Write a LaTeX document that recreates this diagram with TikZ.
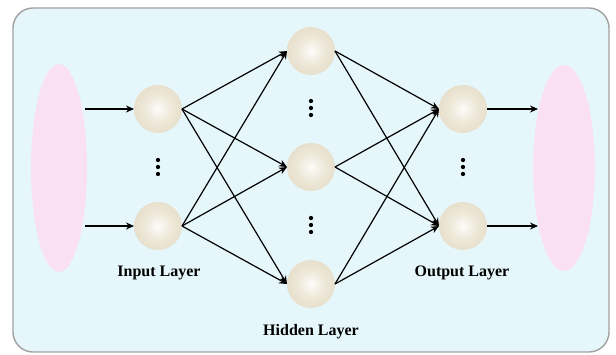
\documentclass[tikz,border=0pt]{standalone}
\usepackage{fontspec}
\setmainfont{Liberation Serif}
\usetikzlibrary{arrows.meta}
\definecolor{panelbg}{HTML}{E6F7FB}
\definecolor{panelrim}{HTML}{A0A0A0}
\definecolor{blush}{HTML}{F9E1F3}
\definecolor{beige}{HTML}{D8CDAE}
\definecolor{pearl}{HTML}{FDFCF9}
\definecolor{cream}{HTML}{EEE8D9}
% soft sphere: light centre fading to a beige rim at the circle's edge
\pgfdeclareradialshading{pearlball}{\pgfpoint{0bp}{0bp}}{%
  color(0bp)=(pearl); color(14bp)=(cream); color(50bp)=(beige); color(100bp)=(beige)}
\tikzset{
  neuron/.style={circle, minimum size=48pt, inner sep=0pt, outer sep=0pt,
    shading=pearlball},
  link/.style={line width=1.2pt, -{Stealth[length=8pt,width=7pt]}},
  layerlabel/.style={font=\bfseries\fontsize{16}{19}\selectfont, inner sep=0pt},
  vdot/.style={circle, fill=black, inner sep=0pt, minimum size=4.3pt}
}
\begin{document}
\begin{tikzpicture}[x=1pt,y=-1pt]
  \useasboundingbox (0,0) rectangle (616,354);
  % panel
  \draw[fill=panelbg, draw=panelrim, line width=1.4pt, rounded corners=20pt]
    (13,8) rectangle (609,352);
  % input / output regions
  \fill[blush] (59,168) ellipse [x radius=28, y radius=104];
  \fill[blush] (564,168) ellipse [x radius=31, y radius=103];
  \coordinate (inA) at (85,109);
  \coordinate (inB) at (85,226);
  \coordinate (outA) at (538,109);
  \coordinate (outB) at (538,226);
  % neurons
  \node[neuron] (i1) at (158,109) {};
  \node[neuron] (i2) at (158,226) {};
  \node[neuron] (h1) at (311,51) {};
  \node[neuron] (h2) at (311,167) {};
  \node[neuron] (h3) at (311,284) {};
  \node[neuron] (o1) at (463,109) {};
  \node[neuron] (o2) at (463,226) {};
  % ellipsis dots
  \foreach \n/\x/\y in {a/158/167, b/311/108, c/311/225, d/463/167} {
    \node[vdot] (\n1) at (\x,\y-7) {};
    \node[vdot] (\n2) at (\x,\y) {};
    \node[vdot] (\n3) at (\x,\y+7) {};
  }
  % connections
  \draw[link] (inA) -- (i1.west);
  \draw[link] (inB) -- (i2.west);
  \foreach \s in {i1,i2} \foreach \t in {h1,h2,h3}
    \draw[link] (\s.east) -- (\t.west);
  \foreach \s in {h1,h2,h3} \foreach \t in {o1,o2}
    \draw[link] (\s.east) -- (\t.west);
  \draw[link] (o1.east) -- (outA);
  \draw[link] (o2.east) -- (outB);
  % labels
  \node[layerlabel] (lin) at (159,273) {Input Layer};
  \node[layerlabel] (lout) at (462,273) {Output Layer};
  \node[layerlabel] (lhid) at (311,332) {Hidden Layer};
\end{tikzpicture}
\end{document}
